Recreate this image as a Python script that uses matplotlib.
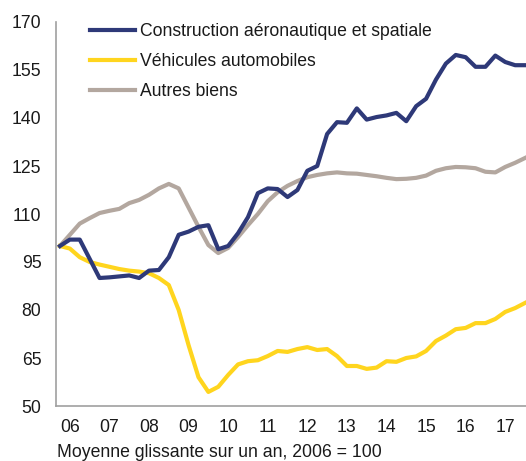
import matplotlib
matplotlib.use("Agg")
import matplotlib.pyplot as plt
from matplotlib.lines import Line2D

plt.rcParams['font.family'] = ['Liberation Sans', 'DejaVu Sans']

year_labels = ['06', '07', '08', '09', '10', '11', '12', '13', '14', '15', '16', '17']

aero = [100, 102, 102, 96, 90, 90.2, 90.5, 90.8, 90, 92.3, 92.5, 96.5,
        103.5, 104.5, 106, 106.5, 99, 100, 104, 109, 116.5, 118, 117.8, 115.3,
        117.5, 123.5, 125, 135, 138.7, 138.5, 143, 139.5, 140.3, 140.8, 141.6, 139,
        143.7, 146, 152, 157, 159.7, 159, 156, 156, 159.5, 157.5, 156.5, 156.5]

auto = [100, 99.2, 96.5, 95, 94.2, 93.5, 92.8, 92.3, 92, 91.5, 90, 87.8,
        80, 69, 59, 54.4, 56, 59.7, 63, 64, 64.3, 65.6, 67.2, 66.9,
        67.8, 68.4, 67.5, 67.8, 65.6, 62.5, 62.5, 61.6, 62, 64, 63.8, 65,
        65.5, 67.2, 70.3, 72, 74, 74.4, 75.9, 75.9, 77.2, 79.4, 80.6, 82.2]

autres = [100, 103.5, 107, 108.7, 110.3, 111, 111.6, 113.4, 114.4, 116, 118, 119.4,
          118, 112, 106, 100.3, 97.8, 99.4, 102.8, 106.5, 110, 114, 116.8, 118.8,
          120.3, 121.5, 122.2, 122.7, 123, 122.7, 122.6, 122.2, 121.8, 121.3, 120.9, 121,
          121.3, 122, 123.5, 124.3, 124.7, 124.6, 124.3, 123.2, 123, 124.7, 126, 127.5]

series_names = ['Construction aéronautique et spatiale', 'Véhicules automobiles', 'Autres biens']
colors = ['#2E3978', '#FFD51E', '#B3A79F']

x = list(range(len(aero)))

fs = 12.7
fig = plt.figure(figsize=(5.26, 4.61), dpi=100)
ax = fig.add_axes([56/526, 1-406/461, 1-56/526, (406-22)/461])

lw = 3.0
ax.plot(x, autres, color=colors[2], lw=lw, solid_joinstyle='round', zorder=2)
ax.plot(x, auto, color=colors[1], lw=lw, solid_joinstyle='round', zorder=3)
ax.plot(x, aero, color=colors[0], lw=lw, solid_joinstyle='round', zorder=4)

ax.set_ylim(50, 170)
ax.set_yticks(range(50, 171, 15))
ax.set_xlim(-0.4, 47.1)
ax.set_xticks([1 + 4*k for k in range(len(year_labels))])
ax.set_xticklabels(year_labels)

for s in ['top', 'right']:
    ax.spines[s].set_visible(False)
for s in ['left', 'bottom']:
    ax.spines[s].set_color('#A0A0A0')
    ax.spines[s].set_linewidth(1.2)
ax.tick_params(axis='both', length=0, labelsize=fs, colors='#1a1a1a')
ax.tick_params(axis='y', pad=10.5)
ax.tick_params(axis='x', pad=9.5)

handles = [Line2D([0], [0], color=c, lw=lw) for c in colors]
leg = ax.legend(handles, series_names, loc='upper left',
                bbox_to_anchor=(90/526, 1-23/461), bbox_transform=fig.transFigure,
                frameon=False, fontsize=fs, handlelength=2.55, handletextpad=0.28,
                labelspacing=0.75, borderaxespad=0, borderpad=0)
for t in leg.get_texts():
    t.set_color('#1a1a1a')

fig.text(57/526, 1-452/461, 'Moyenne glissante sur un an, 2006 = 100',
         fontsize=fs, color='#1a1a1a', va='center', ha='left')

fig.savefig('out.png', dpi=100)
